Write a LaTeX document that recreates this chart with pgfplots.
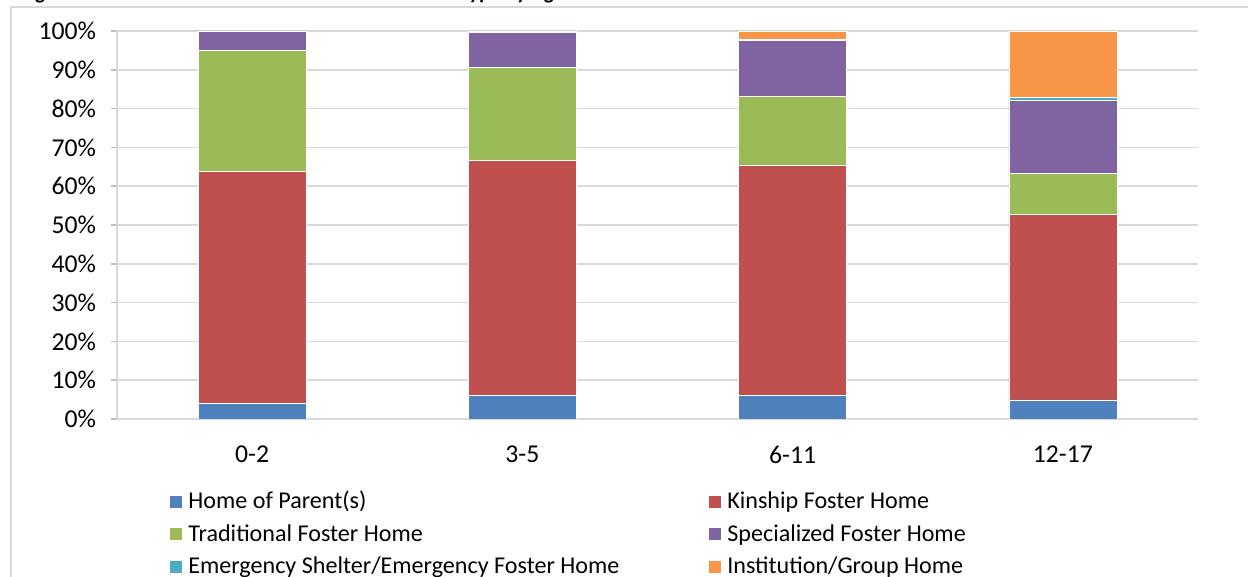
\documentclass[border=0pt]{standalone}
\usepackage{fontspec}
\setmainfont{Carlito}
\usepackage{pgfplots}
\usepackage{pgfplotstable}
\pgfplotsset{compat=1.18}

\definecolor{gridgray}{HTML}{D9D9D9}
\definecolor{axisgray}{HTML}{BFBFBF}
\definecolor{cHome}{HTML}{4F81BD}
\definecolor{cKin}{HTML}{C0504D}
\definecolor{cTrad}{HTML}{9BBB59}
\definecolor{cSpec}{HTML}{8064A2}
\definecolor{cEmerg}{HTML}{4BACC6}
\definecolor{cInst}{HTML}{F79646}

% Share of children (%) in each placement type, by age group
\pgfplotstableread{
x home kin  trad spec emerg inst
0 4.1  59.6 31.4 4.9  0.0   0.0
1 6.2  60.5 24.0 9.0  0.0   0.3
2 6.2  59.3 17.7 14.4 0.2   2.2
3 4.9  47.9 10.5 18.7 0.8   17.2
}\placement

\begin{document}
\begin{tikzpicture}
\useasboundingbox (0,0) rectangle (624bp,288.5bp);
\clip (0,0) rectangle (624bp,288.5bp);
% chart frame
\draw[gridgray, line width=0.8bp] (5.5bp,-10bp) -- (5.5bp,285bp) -- (640bp,285bp);
% title (runs above the frame)
\node[anchor=base west, inner sep=0pt, font=\fontsize{10.5}{12}\selectfont\bfseries]
  at (10bp,288.75bp) {Figure 4: Children in Out-of-Home Care Placement Type by Age};
\begin{axis}[
  at={(58.5bp,79bp)}, anchor=south west,
  scale only axis, width=540.5bp, height=194bp,
  ybar stacked, bar width=54bp,
  xmin=-0.5, xmax=3.5, ymin=0, ymax=100,
  xtick={0,1,2,3}, xticklabels={0-2,3-5,6-11,12-17},
  ytick={0,10,...,100},
  yticklabel={\pgfmathprintnumber{\tick}\%},
  /pgf/number format/assume math mode=true,
  ticklabel style={font=\fontsize{12.9}{15}\selectfont, text=black},
  xticklabel style={yshift=-7bp},
  yticklabel style={xshift=-4bp},
  axis x line*=bottom, axis y line*=left,
  axis line style={draw=gridgray, line width=0.8bp, -},
  x tick style={draw=none},
  y tick style={draw=axisgray, line width=0.8bp},
  tick align=outside, major tick length=3bp,
  ymajorgrids, grid style={draw=gridgray, line width=0.85bp},
  every axis plot/.append style={draw=white, line width=0.35bp},
  legend columns=2,
  legend cell align=left,
  legend style={
    at={(axis description cs:0.049,-0.175)}, anchor=north west,
    draw=none, fill=none, inner sep=0pt, row sep=2.3bp,
    font=\fontsize{12.1}{14.5}\selectfont,
    /tikz/every odd column/.append style={column sep=1bp},
    /tikz/every even column/.append style={column sep=43bp},
  },
  legend image code/.code={\fill[#1, draw=none] (0bp,-3bp) rectangle (6bp,3bp);},
]
\addplot[fill=cHome]  table[x=x, y=home]  {\placement};
\addplot[fill=cKin]   table[x=x, y=kin]   {\placement};
\addplot[fill=cTrad]  table[x=x, y=trad]  {\placement};
\addplot[fill=cSpec]  table[x=x, y=spec]  {\placement};
\addplot[fill=cEmerg] table[x=x, y=emerg] {\placement};
\addplot[fill=cInst]  table[x=x, y=inst]  {\placement};
\legend{Home of Parent(s), Kinship Foster Home, Traditional Foster Home,
        Specialized Foster Home, Emergency Shelter/Emergency Foster Home,
        Institution/Group Home}
\end{axis}
\end{tikzpicture}
\end{document}
